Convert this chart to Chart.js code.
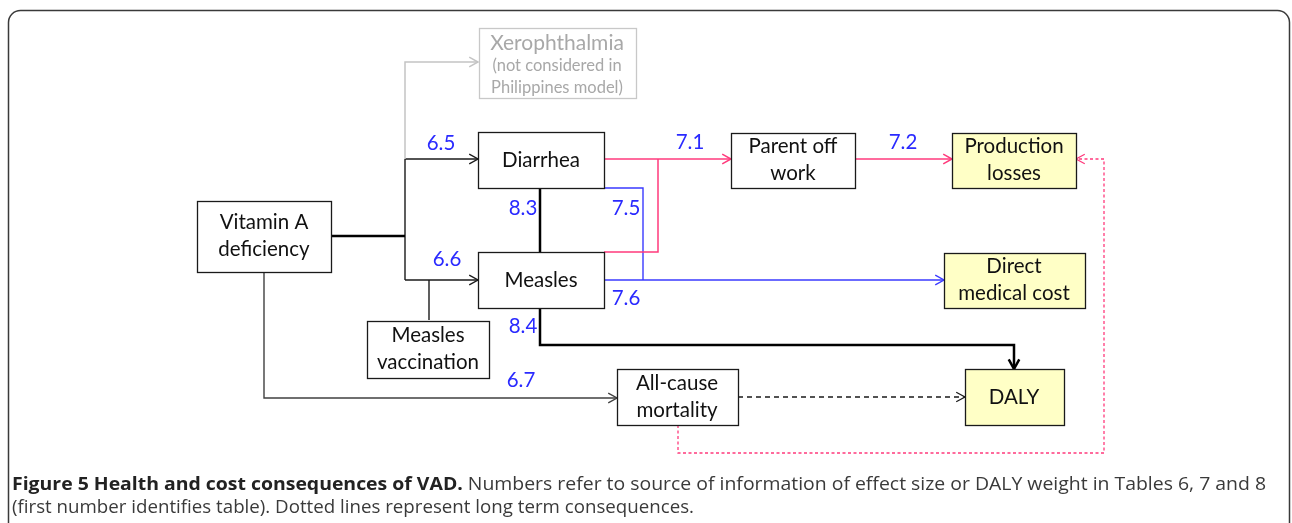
<!DOCTYPE html>
<html>
<head>
<meta charset="utf-8">
<script src="https://cdn.jsdelivr.net/npm/chart.js@4.4.0/dist/chart.umd.min.js"></script>
<style>
  body { margin: 0; background: #fff; }
  #wrap { width: 1292px; height: 523px; position: relative; }
</style>
</head>
<body>
<div id="wrap"><canvas id="flow-chart"></canvas></div>
<script>
// nodes of the diagram (centre x, centre y in diagram units, box width, box height)
var nodeLabels = [
    ["Xerophthalmia", "(not considered in", "Philippines model)"],
    ["Vitamin A", "deficiency"],
    ["Diarrhea"],
    ["Measles"],
    ["Measles", "vaccination"],
    ["Parent off", "work"],
    ["Production", "losses"],
    ["Direct", "medical cost"],
    ["All-cause", "mortality"],
    ["DALY"]
];
var nodeX = [557, 264, 541, 541, 428, 793, 1014, 1014, 677, 1014];
var nodeY = [63, 236, 160, 280, 349, 160, 160, 280, 397, 397];
var nodeW = [157, 134, 126, 126, 122, 124, 124, 141, 121, 99];
var nodeH = [70, 71, 56, 56, 57, 55, 55, 55, 56, 56];
var nodeKind = ["grey", "plain", "plain", "plain", "plain", "plain", "cost", "cost", "plain", "cost"];

// links between nodes (polylines in diagram units)
var links = [
    { pts: [[405, 159], [405, 62], [478, 62]], kind: "grey", arrow: true },
    { pts: [[331, 236], [405, 236]], kind: "thick", arrow: false },
    { pts: [[405, 159], [405, 280]], kind: "black", arrow: false },
    { pts: [[405, 159], [478, 159]], kind: "black", arrow: true },
    { pts: [[405, 280], [478, 280]], kind: "black", arrow: true },
    { pts: [[429, 320], [429, 280]], kind: "black", arrow: false },
    { pts: [[540, 188], [540, 252]], kind: "thick", arrow: false },
    { pts: [[540, 308], [540, 345], [1014, 345], [1014, 369]], kind: "thick", arrow: true },
    { pts: [[604, 159], [731, 159]], kind: "pink", arrow: true },
    { pts: [[604, 252], [658, 252], [658, 159]], kind: "pink", arrow: false },
    { pts: [[855, 159], [952, 159]], kind: "pink", arrow: true },
    { pts: [[604, 188], [643, 188], [643, 280]], kind: "blue", arrow: false },
    { pts: [[604, 280], [944, 280]], kind: "blue", arrow: true },
    { pts: [[264, 271], [264, 398], [617, 398]], kind: "dark", arrow: true },
    { pts: [[738, 397], [965, 397]], kind: "dashed", arrow: true },
    { pts: [[678, 425], [678, 453], [1104, 453], [1104, 159], [1076, 159]], kind: "pinkdot", arrow: true }
];

// source numbers written next to the links
var refLabels = ["6.5", "6.6", "8.3", "8.4", "7.1", "7.2", "7.5", "7.6", "6.7"];
var refX = [441, 447, 523, 523, 690, 903, 626, 626, 521];
var refY = [143, 259, 208, 326, 142, 142, 208, 298, 380];

var captionBold = "Figure 5 Health and cost consequences of VAD.";
var captionRest = " Numbers refer to source of information of effect size or DALY weight in Tables 6, 7 and 8";
var captionLine2 = "(first number identifies table). Dotted lines represent long term consequences.";

var linkStyle = {
    grey:    { color: "#c4c4c4", width: 1.5, dash: [] },
    thick:   { color: "#000000", width: 2.5, dash: [] },
    black:   { color: "#1a1a1a", width: 1.4, dash: [] },
    dark:    { color: "#404040", width: 1.4, dash: [] },
    pink:    { color: "#ff3a7c", width: 1.5, dash: [] },
    blue:    { color: "#3a3aff", width: 1.4, dash: [] },
    dashed:  { color: "#1a1a1a", width: 1.3, dash: [5, 4] },
    pinkdot: { color: "#ff3a7c", width: 1.3, dash: [3, 2.5] }
};

var datasets = links.map(function (l) {
    var s = linkStyle[l.kind];
    return {
        data: l.pts.map(function (p) { return { x: p[0], y: p[1] }; }),
        showLine: true,
        borderColor: s.color,
        borderWidth: s.width,
        borderDash: s.dash,
        pointRadius: 0,
        tension: 0,
        fill: false,
        arrow: l.arrow
    };
});

var diagramPlugin = {
    id: "diagram",
    beforeDatasetsDraw: function (chart) {
        var ctx = chart.ctx;
        // outer frame
        ctx.save();
        ctx.strokeStyle = "#3a3a3a";
        ctx.lineWidth = 1.5;
        ctx.beginPath();
        ctx.roundRect(8.5, 10.5, 1281, 560, 12);
        ctx.stroke();
        ctx.restore();
    },
    afterDatasetsDraw: function (chart) {
        var ctx = chart.ctx;
        var xs = chart.scales.x, ys = chart.scales.y;

        // arrowheads
        chart.data.datasets.forEach(function (ds) {
            if (!ds.arrow) return;
            var n = ds.data.length;
            var a = ds.data[n - 2], b = ds.data[n - 1];
            var x1 = xs.getPixelForValue(a.x), y1 = ys.getPixelForValue(a.y);
            var x2 = xs.getPixelForValue(b.x), y2 = ys.getPixelForValue(b.y);
            var ang = Math.atan2(y2 - y1, x2 - x1);
            var len = ds.borderWidth > 2 ? 11 : 10;
            ctx.save();
            ctx.strokeStyle = ds.borderColor;
            ctx.lineWidth = ds.borderWidth;
            ctx.setLineDash([]);
            ctx.beginPath();
            ctx.moveTo(x2 - len * Math.cos(ang - 0.5), y2 - len * Math.sin(ang - 0.5));
            ctx.lineTo(x2, y2);
            ctx.lineTo(x2 - len * Math.cos(ang + 0.5), y2 - len * Math.sin(ang + 0.5));
            ctx.stroke();
            ctx.restore();
        });

        // boxes
        nodeLabels.forEach(function (lines, i) {
            var cx = xs.getPixelForValue(nodeX[i]), cy = ys.getPixelForValue(nodeY[i]);
            var w = nodeW[i], h = nodeH[i];
            var kind = nodeKind[i];
            ctx.save();
            ctx.fillStyle = kind === "cost" ? "#ffffc6" : "#ffffff";
            ctx.strokeStyle = kind === "grey" ? "#c8c8c8" : "#1a1a1a";
            ctx.lineWidth = 1.3;
            var x0 = Math.round(cx - w / 2) + 0.5, y0 = Math.round(cy - h / 2) + 0.5;
            ctx.fillRect(x0, y0, w, h);
            ctx.strokeRect(x0, y0, w, h);
            ctx.textAlign = "center";
            ctx.textBaseline = "middle";
            if (kind === "grey") {
                ctx.fillStyle = "#a8a8a8";
                ctx.font = "21px Lato";
                ctx.fillText(lines[0], cx, cy - 20);
                ctx.font = "16.5px Lato";
                ctx.fillText(lines[1], cx, cy + 3);
                ctx.fillText(lines[2], cx, cy + 25);
            } else {
                ctx.fillStyle = "#111";
                ctx.font = "20.5px Lato";
                var step = 26.5;
                var top = cy - (lines.length - 1) * step / 2;
                lines.forEach(function (t, k) { ctx.fillText(t, cx, top + k * step); });
            }
            ctx.restore();
        });

        // source numbers
        ctx.save();
        ctx.fillStyle = "#2a2aff";
        ctx.font = "20.5px Lato";
        ctx.textAlign = "center";
        ctx.textBaseline = "middle";
        refLabels.forEach(function (t, i) {
            ctx.fillText(t, xs.getPixelForValue(refX[i]), ys.getPixelForValue(refY[i]));
        });
        ctx.restore();

        // caption, squeezed to the condensed width of the original
        ctx.save();
        ctx.textBaseline = "middle";
        ctx.font = "bold 18px 'Open Sans'";
        var wb = ctx.measureText(captionBold).width;
        ctx.font = "18px 'Open Sans'";
        var wr = ctx.measureText(captionRest).width;
        var w2 = ctx.measureText(captionLine2).width;
        var sx = 1254 / (wb + wr);
        ctx.save();
        ctx.translate(12, 0);
        ctx.scale(sx, 1);
        ctx.fillStyle = "#222";
        ctx.font = "bold 18px 'Open Sans'";
        ctx.fillText(captionBold, 0, 485);
        ctx.fillStyle = "#3a3a3a";
        ctx.font = "18px 'Open Sans'";
        ctx.fillText(captionRest, wb, 485);
        ctx.restore();
        ctx.translate(12, 0);
        ctx.scale(682 / w2, 1);
        ctx.fillStyle = "#3a3a3a";
        ctx.font = "18px 'Open Sans'";
        ctx.fillText(captionLine2, 0, 508);
        ctx.restore();
    }
};

var flowContext = document.getElementById("flow-chart").getContext("2d");
window.myFlow = new Chart(flowContext, {
    type: "scatter",
    data: { datasets: datasets },
    options: {
        responsive: true,
        maintainAspectRatio: false,
        animation: false,
        layout: { padding: 0 },
        plugins: { legend: { display: false }, tooltip: { enabled: false } },
        scales: {
            x: { type: "linear", min: 0, max: 1292, display: false },
            y: { type: "linear", min: 0, max: 523, reverse: true, display: false }
        }
    },
    plugins: [diagramPlugin]
});
</script>
</body>
</html>
